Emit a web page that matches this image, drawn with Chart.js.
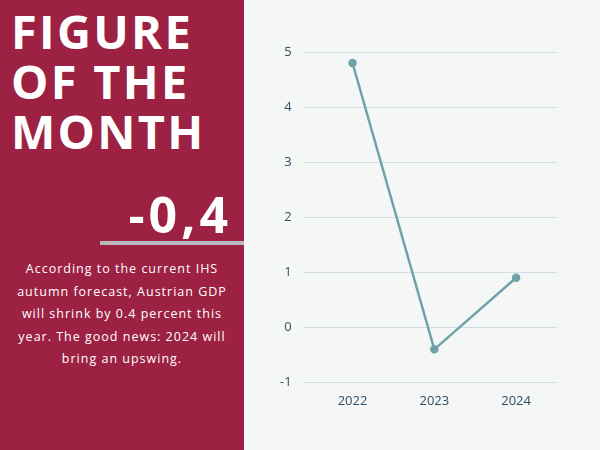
<!DOCTYPE html>
<html><head><meta charset="utf-8">
<script src="https://cdn.jsdelivr.net/npm/chart.js@4"></script>
<style>
html,body{margin:0;padding:0;width:600px;height:450px;overflow:hidden;background:#f5f6f6;font-family:"Open Sans",sans-serif}
#left{position:absolute;left:0;top:0;width:244px;height:450px;background:#9c2142;color:#fff}
#title{position:absolute;left:11px;top:6px;font-family:"Open Sans";font-weight:700;font-size:47px;line-height:50px;letter-spacing:2.3px}
#num{position:absolute;right:12px;top:180px;font-weight:700;font-size:50px;letter-spacing:4px}
#bar{position:absolute;left:100px;top:241px;width:144px;height:4px;background:#b8b8be}
#para{position:absolute;left:6px;top:258px;width:232px;text-align:center;font-size:12.5px;line-height:22.5px;letter-spacing:1px}
#wrap{position:absolute;left:244px;top:0;width:356px;height:450px}
</style></head><body>
<div id="left">
<div id="title">FIGURE<br>OF THE<br>MONTH</div>
<div id="num">-0,4</div>
<div id="bar"></div>
<div id="para">According to the current IHS autumn forecast, Austrian GDP will shrink by 0.4 percent this year. The good news: 2024 will bring an upswing.</div>
</div>
<div id="wrap"><canvas id="c" width="356" height="450"></canvas></div>
<script>
const years=["2022","2023","2024"];
const gdp=[4.8,-0.4,0.9];
new Chart(document.getElementById('c'),{type:'line',
data:{labels:years,datasets:[{data:gdp,borderColor:'#6fa3a8',backgroundColor:'#6fa3a8',borderWidth:2.5,pointRadius:3,tension:0}]},
options:{responsive:false,animation:false,plugins:{legend:{display:false},tooltip:{enabled:false}},
layout:{padding:{left:24,right:43,top:52,bottom:38}},
scales:{x:{offset:true,grid:{display:false},border:{display:false},ticks:{color:'#2f4f66',font:{size:13,family:'Open Sans'}}},
y:{min:-1,max:5,ticks:{stepSize:1,color:'#2f4f66',font:{size:13,family:'Open Sans'},padding:12},grid:{color:'#cfe0e4'},border:{display:false}}}}});
</script></body></html>
